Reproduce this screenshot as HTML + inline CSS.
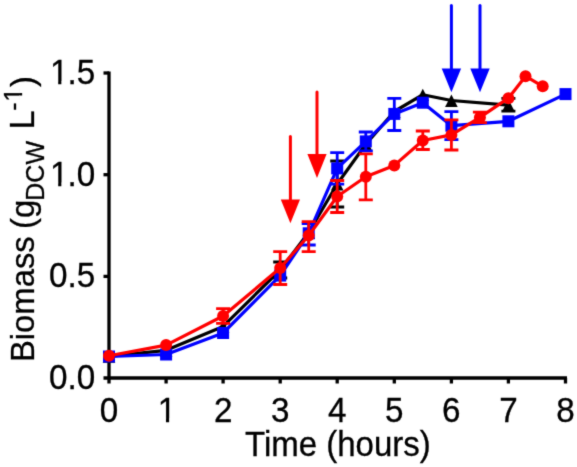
<!DOCTYPE html>
<html><head><meta charset="utf-8"><title>Chart</title>
<style>html,body{margin:0;padding:0;background:#fff;}svg{display:block;font-family:"Liberation Sans",sans-serif;}</style>
</head><body>
<svg width="577" height="467" viewBox="0 0 577 467">
<defs><filter id="soft" x="-12" y="-12" width="601" height="491" filterUnits="userSpaceOnUse" color-interpolation-filters="sRGB"><feConvolveMatrix order="3" kernelMatrix="0.02 0.09 0.02 0.09 0.56 0.09 0.02 0.09 0.02" edgeMode="duplicate" preserveAlpha="true"/></filter></defs><g filter="url(#soft)"><rect x="-12" y="-12" width="601" height="491" fill="#fff"/>
<path d="M109.0 71.5V383.5M103.5 378.0H567.0" stroke="#000" stroke-width="3.3" fill="none"/>
<path d="M103.5 276.4H109.0" stroke="#000" stroke-width="3.3"/>
<path d="M103.5 174.7H109.0" stroke="#000" stroke-width="3.3"/>
<path d="M103.5 73.0H109.0" stroke="#000" stroke-width="3.3"/>
<path d="M166.1 378.0V383.5" stroke="#000" stroke-width="3.3"/>
<path d="M223.1 378.0V383.5" stroke="#000" stroke-width="3.3"/>
<path d="M280.2 378.0V383.5" stroke="#000" stroke-width="3.3"/>
<path d="M337.2 378.0V383.5" stroke="#000" stroke-width="3.3"/>
<path d="M394.3 378.0V383.5" stroke="#000" stroke-width="3.3"/>
<path d="M451.4 378.0V383.5" stroke="#000" stroke-width="3.3"/>
<path d="M508.4 378.0V383.5" stroke="#000" stroke-width="3.3"/>
<path d="M565.5 378.0V383.5" stroke="#000" stroke-width="3.3"/>
<polyline points="109.0,356.3 166.1,350.3 223.1,326.4 280.2,270.0 308.7,232.5 337.2,184.0 365.8,144.2 394.3,111.5 422.8,94.7 451.4,100.5 508.4,105.2" fill="none" stroke="#000000" stroke-width="3.2" stroke-linejoin="round"/>
<path d="M280.2 262.0V278.0M273.2 262.0H287.2M273.2 278.0H287.2" stroke="#000000" stroke-width="2.8" fill="none"/>
<path d="M337.2 161.0V207.0M330.2 161.0H344.2M330.2 207.0H344.2" stroke="#000000" stroke-width="2.8" fill="none"/>
<path d="M508.4 98.4V111.1M501.4 98.4H515.4M501.4 111.1H515.4" stroke="#000000" stroke-width="2.8" fill="none"/>
<path d="M109.0 350.3L115.3 362.7H102.7Z" fill="#000000"/>
<path d="M166.1 344.3L172.4 356.7H159.8Z" fill="#000000"/>
<path d="M223.1 320.4L229.4 332.8H216.8Z" fill="#000000"/>
<path d="M280.2 264.0L286.5 276.4H273.9Z" fill="#000000"/>
<path d="M308.7 226.5L315.0 238.9H302.4Z" fill="#000000"/>
<path d="M337.2 178.0L343.5 190.4H330.9Z" fill="#000000"/>
<path d="M365.8 138.2L372.1 150.6H359.5Z" fill="#000000"/>
<path d="M394.3 105.5L400.6 117.9H388.0Z" fill="#000000"/>
<path d="M422.8 88.7L429.1 101.1H416.5Z" fill="#000000"/>
<path d="M451.4 94.5L457.7 106.9H445.1Z" fill="#000000"/>
<path d="M508.4 99.2L514.7 111.6H502.1Z" fill="#000000"/>
<polyline points="109.0,356.5 166.1,354.5 223.1,333.0 280.2,275.6 308.7,233.3 337.2,168.4 365.8,141.4 394.3,113.9 422.8,102.7 451.4,125.7 508.4,121.3 565.5,94.1" fill="none" stroke="#0000ff" stroke-width="3.2" stroke-linejoin="round"/>
<path d="M308.7 223.6V245.0M301.7 223.6H315.7M301.7 245.0H315.7" stroke="#0000ff" stroke-width="2.8" fill="none"/>
<path d="M337.2 152.7V184.1M330.2 152.7H344.2M330.2 184.1H344.2" stroke="#0000ff" stroke-width="2.8" fill="none"/>
<path d="M365.8 132.0V150.8M358.8 132.0H372.8M358.8 150.8H372.8" stroke="#0000ff" stroke-width="2.8" fill="none"/>
<path d="M394.3 98.4V130.5M387.3 98.4H401.3M387.3 130.5H401.3" stroke="#0000ff" stroke-width="2.8" fill="none"/>
<path d="M451.4 111.7V139.7M444.4 111.7H458.4M444.4 139.7H458.4" stroke="#0000ff" stroke-width="2.8" fill="none"/>
<rect x="103.0" y="350.5" width="12" height="12" fill="#0000ff"/>
<rect x="160.1" y="348.5" width="12" height="12" fill="#0000ff"/>
<rect x="217.1" y="327.0" width="12" height="12" fill="#0000ff"/>
<rect x="274.2" y="269.6" width="12" height="12" fill="#0000ff"/>
<rect x="302.7" y="227.3" width="12" height="12" fill="#0000ff"/>
<rect x="331.2" y="162.4" width="12" height="12" fill="#0000ff"/>
<rect x="359.8" y="135.4" width="12" height="12" fill="#0000ff"/>
<rect x="388.3" y="107.9" width="12" height="12" fill="#0000ff"/>
<rect x="416.8" y="96.7" width="12" height="12" fill="#0000ff"/>
<rect x="445.4" y="119.7" width="12" height="12" fill="#0000ff"/>
<rect x="502.4" y="115.3" width="12" height="12" fill="#0000ff"/>
<rect x="559.5" y="88.1" width="12" height="12" fill="#0000ff"/>
<polyline points="109.0,355.7 166.1,345.1 223.1,316.0 280.2,268.1 308.7,235.5 337.2,196.5 365.8,176.8 394.3,165.4 422.8,140.5 451.4,134.9 479.9,117.4 508.4,98.2 525.5,76.2 542.7,86.3" fill="none" stroke="#ff0000" stroke-width="3.2" stroke-linejoin="round"/>
<path d="M223.1 308.7V323.3M216.1 308.7H230.1M216.1 323.3H230.1" stroke="#ff0000" stroke-width="2.8" fill="none"/>
<path d="M280.2 251.7V284.5M273.2 251.7H287.2M273.2 284.5H287.2" stroke="#ff0000" stroke-width="2.8" fill="none"/>
<path d="M308.7 221.6V251.7M301.7 221.6H315.7M301.7 251.7H315.7" stroke="#ff0000" stroke-width="2.8" fill="none"/>
<path d="M337.2 180.5V212.5M330.2 180.5H344.2M330.2 212.5H344.2" stroke="#ff0000" stroke-width="2.8" fill="none"/>
<path d="M365.8 153.8V199.8M358.8 153.8H372.8M358.8 199.8H372.8" stroke="#ff0000" stroke-width="2.8" fill="none"/>
<path d="M422.8 131.0V149.5M415.8 131.0H429.8M415.8 149.5H429.8" stroke="#ff0000" stroke-width="2.8" fill="none"/>
<path d="M451.4 119.8V150.0M444.4 119.8H458.4M444.4 150.0H458.4" stroke="#ff0000" stroke-width="2.8" fill="none"/>
<path d="M479.9 112.1V122.7M472.9 112.1H486.9M472.9 122.7H486.9" stroke="#ff0000" stroke-width="2.8" fill="none"/>
<circle cx="109.0" cy="355.7" r="6.0" fill="#ff0000"/>
<circle cx="166.1" cy="345.1" r="6.0" fill="#ff0000"/>
<circle cx="223.1" cy="316.0" r="6.0" fill="#ff0000"/>
<circle cx="280.2" cy="268.1" r="6.0" fill="#ff0000"/>
<circle cx="308.7" cy="235.5" r="6.0" fill="#ff0000"/>
<circle cx="337.2" cy="196.5" r="6.0" fill="#ff0000"/>
<circle cx="365.8" cy="176.8" r="6.0" fill="#ff0000"/>
<circle cx="394.3" cy="165.4" r="6.0" fill="#ff0000"/>
<circle cx="422.8" cy="140.5" r="6.0" fill="#ff0000"/>
<circle cx="451.4" cy="134.9" r="6.0" fill="#ff0000"/>
<circle cx="479.9" cy="117.4" r="6.0" fill="#ff0000"/>
<circle cx="508.4" cy="98.2" r="6.0" fill="#ff0000"/>
<circle cx="525.5" cy="76.2" r="6.0" fill="#ff0000"/>
<circle cx="542.7" cy="86.3" r="6.0" fill="#ff0000"/>
<path d="M290.4 136.5V200.6" stroke="#ff0000" stroke-width="3" stroke-linecap="round" fill="none"/>
<path d="M280.79999999999995 199.6H300.0L290.4 223.3Z" fill="#ff0000"/>
<path d="M317 92V154.9" stroke="#ff0000" stroke-width="3" stroke-linecap="round" fill="none"/>
<path d="M307.4 153.9H326.6L317 178Z" fill="#ff0000"/>
<path d="M451.4 5.5V69.4" stroke="#0000ff" stroke-width="3" stroke-linecap="round" fill="none"/>
<path d="M441.7 68.4H461.09999999999997L451.4 92.3Z" fill="#0000ff"/>
<path d="M480 5.5V69.4" stroke="#0000ff" stroke-width="3" stroke-linecap="round" fill="none"/>
<path d="M470.3 68.4H489.7L480 92.3Z" fill="#0000ff"/>
<text transform="translate(95.20,389.00) scale(1.0,1.04)" font-size="33.2" text-anchor="end" fill="#000" stroke="#000" stroke-width="0.3">0.0</text>
<text transform="translate(95.20,287.35) scale(1.0,1.04)" font-size="33.2" text-anchor="end" fill="#000" stroke="#000" stroke-width="0.3">0.5</text>
<text transform="translate(95.20,185.70) scale(1.0,1.04)" font-size="33.2" text-anchor="end" fill="#000" stroke="#000" stroke-width="0.3">.0</text>
<text transform="translate(49.95,185.70) scale(1.0,1.04)" font-size="33.2" fill="#000" stroke="#000" stroke-width="0.3">1</text>
<g transform="translate(49.95,185.70) scale(1.0,1.04)" fill="#fff"><rect x="0.83" y="-2.93" width="7.40" height="4.53"/><rect x="11.40" y="-2.93" width="7.14" height="4.53"/></g>
<text transform="translate(95.20,84.05) scale(1.0,1.04)" font-size="33.2" text-anchor="end" fill="#000" stroke="#000" stroke-width="0.3">.5</text>
<text transform="translate(49.95,84.05) scale(1.0,1.04)" font-size="33.2" fill="#000" stroke="#000" stroke-width="0.3">1</text>
<g transform="translate(49.95,84.05) scale(1.0,1.04)" fill="#fff"><rect x="0.83" y="-2.93" width="7.40" height="4.53"/><rect x="11.40" y="-2.93" width="7.14" height="4.53"/></g>
<text transform="translate(109.00,421.50) scale(1.0,1.04)" font-size="33.2" text-anchor="middle" fill="#000" stroke="#000" stroke-width="0.3">0</text>
<text transform="translate(157.73,421.50) scale(1.0,1.04)" font-size="33.2" fill="#000" stroke="#000" stroke-width="0.3">1</text>
<g transform="translate(157.73,421.50) scale(1.0,1.04)" fill="#fff"><rect x="0.83" y="-2.93" width="7.40" height="4.53"/><rect x="11.40" y="-2.93" width="7.14" height="4.53"/></g>
<text transform="translate(223.12,421.50) scale(1.0,1.04)" font-size="33.2" text-anchor="middle" fill="#000" stroke="#000" stroke-width="0.3">2</text>
<text transform="translate(280.18,421.50) scale(1.0,1.04)" font-size="33.2" text-anchor="middle" fill="#000" stroke="#000" stroke-width="0.3">3</text>
<text transform="translate(337.24,421.50) scale(1.0,1.04)" font-size="33.2" text-anchor="middle" fill="#000" stroke="#000" stroke-width="0.3">4</text>
<text transform="translate(394.30,421.50) scale(1.0,1.04)" font-size="33.2" text-anchor="middle" fill="#000" stroke="#000" stroke-width="0.3">5</text>
<text transform="translate(451.36,421.50) scale(1.0,1.04)" font-size="33.2" text-anchor="middle" fill="#000" stroke="#000" stroke-width="0.3">6</text>
<text transform="translate(508.42,421.50) scale(1.0,1.04)" font-size="33.2" text-anchor="middle" fill="#000" stroke="#000" stroke-width="0.3">7</text>
<text transform="translate(565.48,421.50) scale(1.0,1.04)" font-size="33.2" text-anchor="middle" fill="#000" stroke="#000" stroke-width="0.3">8</text>
<text transform="translate(337.90,456.20) scale(1.0,1.04)" font-size="33.0" text-anchor="middle" fill="#000" stroke="#000" stroke-width="0.3">Time (hours)</text>
<text transform="translate(34.30,362.06) rotate(-90) scale(1.0,1.022)" font-size="32.8" fill="#000" stroke="#000" stroke-width="0.3">Biomass</text>
<text transform="translate(34.30,228.90) rotate(-90) scale(1.0,1.022)" font-size="32.8" fill="#000" stroke="#000" stroke-width="0.3">(g</text>
<text transform="translate(44.40,200.70) rotate(-90)" font-size="25" fill="#000" stroke="#000" stroke-width="0.3">DCW</text>
<text transform="translate(34.40,129.30) rotate(-90) scale(1.0,1.02)" font-size="33.5" fill="#000" stroke="#000" stroke-width="0.3">L</text>
<text transform="translate(21.60,110.80) rotate(-90)" font-size="25" fill="#000" stroke="#000" stroke-width="0.3">-</text>
<text transform="translate(21.60,101.67) rotate(-90)" font-size="25" fill="#000" stroke="#000" stroke-width="0.3">1</text>
<g transform="translate(21.60,101.67) rotate(-90)" fill="#fff"><rect x="0.20" y="-2.32" width="5.96" height="3.92"/><rect x="8.62" y="-2.32" width="5.77" height="3.92"/></g>
<text transform="translate(34.30,87.10) rotate(-90) scale(1.0,1.022)" font-size="32.8" fill="#000" stroke="#000" stroke-width="0.3">)</text>
</g></svg>
</body></html>
